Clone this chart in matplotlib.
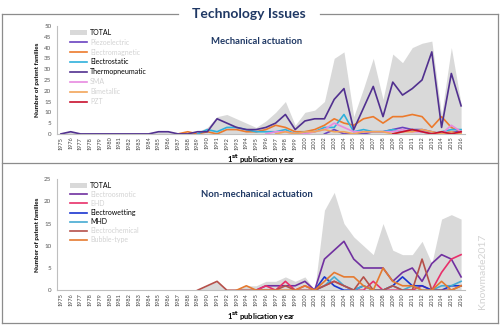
import matplotlib.pyplot as plt
import numpy as np
from matplotlib.lines import Line2D

years = list(range(1975, 2017))

# --- Mechanical actuation (top panel) ---
mech_total = [0, 1, 0, 0, 0, 0, 0, 0, 0, 0, 1, 1, 0, 1, 1, 3, 8, 9, 7, 5, 3,
              6, 10, 15, 4, 10, 11, 15, 35, 38, 8, 21, 35, 16, 37, 33, 40, 42, 43, 9, 40, 14]
mech_series = {
    "Piezoelectric":   [0] * 27 + [0, 2, 0, 0, 0, 1, 1, 2, 3, 2, 2, 1, 0, 1, 1],
    "Electromagnetic": [0] * 13 + [1, 0, 1, 0, 2, 2, 1, 1, 2, 4, 3, 1, 1, 2, 4, 7, 5, 4,
                                   7, 8, 5, 8, 8, 9, 8, 3, 8, 3, 1],
    "Electrostatic":   [0] * 14 + [0, 2, 1, 3, 3, 2, 1, 1, 1, 2, 0, 1, 1, 3, 3, 9, 1, 2,
                                   1, 1, 2, 1, 2, 1, 0, 1, 2, 2],
    "Thermopneumatic": [0, 1, 0, 0, 0, 0, 0, 0, 0, 0, 1, 1, 0, 0, 1, 1, 7, 5, 3, 2, 2,
                        3, 5, 9, 2, 6, 7, 7, 16, 21, 2, 12, 22, 8, 24, 18, 21, 25, 38, 3, 28, 13],
    "SMA":             [0] * 21 + [0, 1, 1, 0, 0, 1, 2, 5, 3, 1, 1, 1, 1, 1, 2, 1, 1, 0, 0, 4, 1],
    "Bimetallic":      [0] * 22 + [0, 1, 0, 1, 1, 2, 1, 1, 0, 1, 1, 1, 0, 1, 1, 2, 1, 0, 1, 0],
    "PZT":             [0] * 30 + [0, 0, 0, 0, 0, 1, 2, 1, 0, 1, 0, 1],
}
mech_colors = ["#6a42c0", "#ec7a2c", "#2fb0dc", "#51308f", "#e88ae0", "#f2a55a", "#c8102e"]
mech_blurred = [True, True, False, False, True, True, True]

# --- Non-mechanical actuation (bottom panel) ---
nonmech_total = [0] * 14 + [0, 1, 2, 0, 0, 1, 1, 2, 2, 3, 2, 3, 0, 18, 22, 15, 12, 10,
                            8, 15, 9, 8, 8, 11, 6, 16, 17, 16]
nonmech_series = {
    "Electroosmotic":  [0] * 20 + [0, 1, 1, 1, 1, 2, 0, 7, 9, 11, 7, 5, 5, 5, 2, 4, 5, 2, 6, 8, 7, 3],
    "EHD":             [0] * 20 + [0, 1, 0, 2, 0, 1, 0, 1, 2, 1, 0, 0, 2, 0, 0, 0, 0, 1, 0, 4, 7, 8],
    "Electrowetting":  [0] * 26 + [0, 3, 1, 0, 0, 1, 0, 0, 1, 3, 1, 1, 0, 0, 1, 1],
    "MHD":             [0] * 26 + [0, 1, 3, 1, 0, 1, 0, 0, 1, 0, 1, 0, 0, 1, 1, 2],
    "Electrochemical": [0] * 14 + [0, 1, 2, 0, 0, 0, 0, 0, 0, 1, 0, 0, 0, 1, 2, 1, 0, 3,
                                   0, 0, 1, 0, 0, 7, 0, 0, 0, 1],
    "Bubble-type":     [0] * 18 + [0, 1, 0, 0, 0, 0, 0, 1, 0, 2, 4, 3, 3, 1, 0, 5, 2, 1,
                                   1, 0, 0, 2, 0, 1],
}
nonmech_colors = ["#7030a0", "#e8306a", "#1a35d0", "#45aad2", "#b5504a", "#e57a30"]
nonmech_blurred = [True, True, False, False, True, True]

NAVY = "#1f3864"
GRAY_FILL = "#d9d9d9"
plt.rcParams["font.family"] = ["Lato", "DejaVu Sans"]


def draw_panel(ax, total, series, colors, blurred, ymax, ystep, subtitle, spacing):
    x = np.array(years)
    ax.fill_between(x, total, 0, color=GRAY_FILL, lw=0, label="TOTAL")
    for (name, vals), c in zip(series.items(), colors):
        v = np.array(vals, dtype=float)
        nz = np.nonzero(v)[0]
        start = max(nz[0] - 1, 0) if len(nz) else 0
        ax.plot(x[start:], v[start:], color=c, lw=1.2, label=name)
    ax.set_xlim(1974.6, 2016.4)
    ax.set_ylim(0, ymax)
    ax.set_xticks(years)
    ax.set_xticklabels([str(y) for y in years], rotation=90, fontsize=4, color="#404040")
    ax.set_yticks(np.arange(0, ymax + 1, ystep))
    ax.tick_params(axis="y", labelsize=4.5, colors="#595959", length=0, pad=4)
    ax.tick_params(axis="x", length=0, pad=2)
    for s in ["top", "right"]:
        ax.spines[s].set_visible(False)
    for s in ["left", "bottom"]:
        ax.spines[s].set_color("#bfbfbf")
        ax.spines[s].set_linewidth(0.8)
    ax.set_ylabel("Number of patent families", fontsize=4.6, fontweight="bold", labelpad=3)
    ax.set_xlabel(r"1$^{\mathbf{st}}$ publication year", fontsize=5.5, fontweight="bold")
    ax.xaxis.set_label_coords(0.5, -0.17)
    ax.text(0.49, 0.86, subtitle, transform=ax.transAxes, ha="center", va="center",
            fontsize=6.8, fontweight="bold", color=NAVY)
    leg = ax.legend(loc="upper left", bbox_to_anchor=(0.02, 1.02), frameon=False,
                    fontsize=5, handlelength=2.4, labelspacing=spacing, borderpad=0.2,
                    handletextpad=0.5)
    for t, b in zip(leg.get_texts()[1:], blurred):
        if b:
            t.set_color("#c8c8c8")
            t.set_alpha(0.8)
    return ax


fig = plt.figure(figsize=(5, 3.25), dpi=100)
ax1 = fig.add_axes([0.114, 0.588, 0.816, 0.332])
ax2 = fig.add_axes([0.114, 0.107, 0.816, 0.342])
draw_panel(ax1, mech_total, mech_series, mech_colors, mech_blurred, 50, 5,
           "Mechanical actuation", 0.42)
draw_panel(ax2, nonmech_total, nonmech_series, nonmech_colors, nonmech_blurred, 25, 5,
           "Non-mechanical actuation", 0.3)

# frame around the figure
fc = "#8c8c8c"
for xs, ys in [([0.004, 0.355], [0.957, 0.957]), ([0.64, 0.996], [0.957, 0.957]),
               ([0.004, 0.004], [0.006, 0.957]), ([0.996, 0.996], [0.006, 0.957]),
               ([0.004, 0.996], [0.006, 0.006]), ([0.004, 0.996], [0.498, 0.498])]:
    fig.add_artist(Line2D(xs, ys, color=fc, lw=0.9, transform=fig.transFigure))

fig.text(0.498, 0.957, "Technology Issues", ha="center", va="center", fontsize=10,
         fontweight="bold", color=NAVY)
fig.text(0.966, 0.165, "Knowmade2017", rotation=90, ha="center", va="center",
         fontsize=7.5, color="#d3d3d3")

fig.savefig("out.png", dpi=100)
